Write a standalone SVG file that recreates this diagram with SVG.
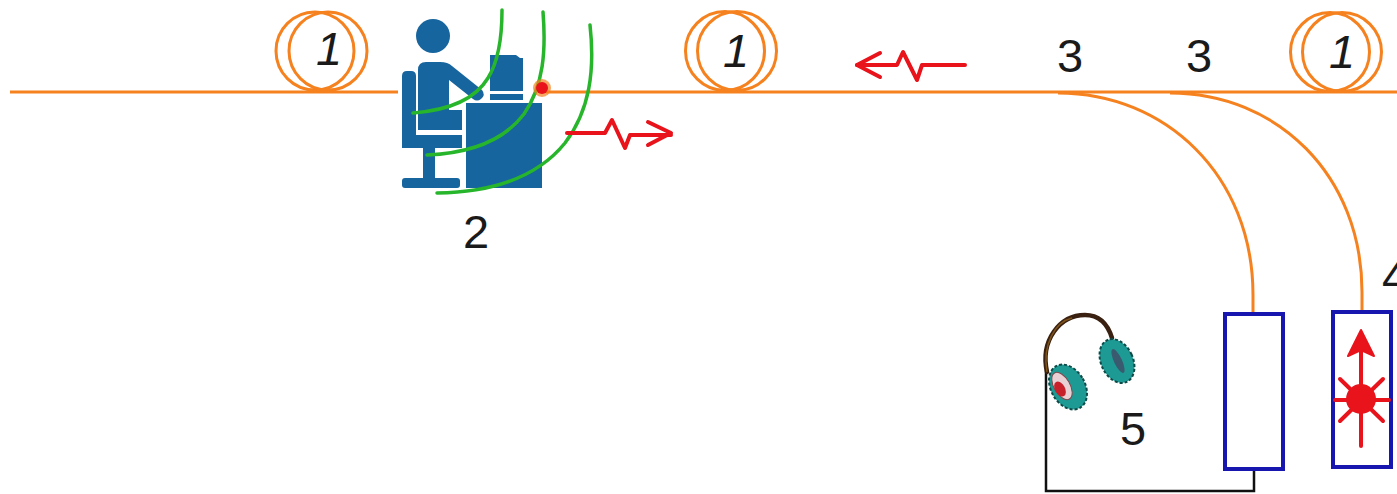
<svg xmlns="http://www.w3.org/2000/svg" width="1397" height="494" viewBox="0 0 1397 494">
  <style>
    .fiber { fill: none; stroke: #F5821F; stroke-width: 3; }
    .coil { fill: none; stroke: #F5821F; stroke-width: 3; }
    .box { fill: #ffffff; stroke: #1717B0; stroke-width: 4; }
    .wave { fill: none; stroke: #E8131B; stroke-width: 4; stroke-linejoin: round; stroke-linecap: round; }
    .field { fill: none; stroke: #27B52B; stroke-width: 3.5; stroke-linecap: round; }
    .icon { fill: #17659E; }
    .lbl { font-family: "Liberation Sans", Arial, sans-serif; font-size: 47px; fill: #1a1a1a; }
    .lbl-i { font-style: italic; text-anchor: middle; }
    .mid { text-anchor: middle; }
  </style>

  <rect width="1397" height="494" fill="#ffffff"/>

  <!-- optical fibre line and branches -->
  <g id="connectors">
    <path class="fiber" d="M10,92 H398"/>
    <path class="fiber" d="M546,92 H1397"/>
    <path class="fiber" d="M1058,93 C1165,93 1253,175 1253,295 V314"/>
    <path class="fiber" d="M1170,93 C1277,93 1362,175 1362,292 V312"/>
    <!-- audio cable from receiver to headphones -->
    <path d="M1254,469 V491 H1046 V366" fill="none" stroke="#111111" stroke-width="2.5"/>
  </g>

  <!-- fibre coils -->
  <g id="coil-1">
    <circle class="coil" cx="315" cy="51" r="39"/>
    <circle class="coil" cx="328" cy="51" r="39" fill="#ffffff"/>
    <text class="lbl lbl-i" x="329" y="65">1</text>
  </g>
  <g id="coil-2">
    <circle class="coil" cx="725" cy="51" r="39.5"/>
    <circle class="coil" cx="737" cy="51" r="39.5" fill="#ffffff"/>
    <text class="lbl lbl-i" x="736" y="67">1</text>
  </g>
  <g id="coil-3">
    <circle class="coil" cx="1330" cy="52" r="39.5"/>
    <circle class="coil" cx="1342" cy="52" r="39.5" fill="#ffffff"/>
    <text class="lbl lbl-i" x="1342" y="68">1</text>
  </g>

  <!-- eavesdropping workstation -->
  <g id="eavesdropper">
    <circle class="icon" cx="433" cy="36" r="17"/>
    <!-- chair -->
    <path class="icon" d="M402,76 Q402,71 407,71 H411 Q416,71 416,76 V135 H462 V148 H402 Z"/>
    <rect class="icon" x="423" y="148" width="12" height="31"/>
    <rect class="icon" x="402" y="178" width="58" height="10" rx="3"/>
    <!-- seated figure -->
    <path class="icon" d="M418,70 Q418,62 426,62 H440 Q448,62 452,66 L482,90 Q486,95 481,99 Q477,102 473,99 L449,80 V110 H462 V130 H418 Z"/>
    <!-- monitor and desk -->
    <path class="icon" d="M490,55 H516 L520,58 H523 V91 H490 Z"/>
    <rect class="icon" x="490" y="94" width="33" height="6"/>
    <rect class="icon" x="466" y="103" width="76" height="85"/>
    <!-- radiated field -->
    <path class="field" d="M502,10 C502,40 498,62 488,78 C476,98 452,110 413,113"/>
    <path class="field" d="M543,12 C546,50 544,85 524,114 C506,138 476,153 427,155"/>
    <path class="field" d="M590,25 C595,70 590,110 565,143 C540,174 500,192 437,193"/>
    <!-- tap point -->
    <circle cx="542" cy="88" r="9" fill="#F5821F" opacity="0.7"/>
    <circle cx="542" cy="88" r="6" fill="#E8131B"/>
    <text class="lbl mid" x="476" y="248">2</text>
  </g>

  <!-- signal propagation arrows -->
  <g id="signal-out">
    <path class="wave" d="M567,133 H605 L612,120 L625,148 L630,135 H671"/>
    <path class="wave" d="M648,122 L671,133 L648,145"/>
  </g>
  <g id="signal-in">
    <path class="wave" d="M965,65 H922 L917,80 L903,52 L897,65 H857"/>
    <path class="wave" d="M880,53 L857,65 L880,77"/>
  </g>

  <!-- couplers -->
  <g id="coupler-a">
    <text class="lbl mid" x="1070" y="72">3</text>
  </g>
  <g id="coupler-b">
    <text class="lbl mid" x="1199" y="72">3</text>
  </g>

  <!-- photoreceiver -->
  <g id="receiver">
    <rect class="box" x="1225" y="314" width="58" height="155"/>
  </g>

  <!-- laser source -->
  <g id="laser">
    <rect class="box" x="1333" y="312" width="58" height="155"/>
    <g stroke="#E8131B" stroke-width="4" stroke-linecap="round">
      <line x1="1361" y1="345" x2="1361" y2="446"/>
      <line x1="1335" y1="400" x2="1389" y2="400"/>
      <line x1="1340" y1="379" x2="1383" y2="421"/>
      <line x1="1383" y1="379" x2="1340" y2="421"/>
    </g>
    <circle cx="1361" cy="399" r="15" fill="#E8131B"/>
    <path d="M1361,330 L1374,356 L1361,350 L1348,356 Z" fill="#E8131B" stroke="#E8131B" stroke-width="2" stroke-linejoin="round"/>
    <text class="lbl" x="1382" y="293">4</text>
  </g>

  <!-- headphones -->
  <g id="headphones">
    <path d="M1047,372 C1040,340 1060,315 1085,315 C1100,315 1108,325 1112,338" fill="none" stroke="#3a2010" stroke-width="4.5" stroke-linecap="round"/>
    <path d="M1047,372 C1042,345 1055,322 1072,318" fill="none" stroke="#9a6a20" stroke-width="1.5" opacity="0.7"/>
    <ellipse cx="1068" cy="387" rx="17" ry="24" transform="rotate(-30 1068 387)" fill="#1E9A94" stroke="#0E4A48" stroke-width="2" stroke-dasharray="3 2"/>
    <ellipse cx="1062" cy="386" rx="8" ry="15" transform="rotate(-30 1062 386)" fill="#E8D0D4" stroke="#7a4a50" stroke-width="1"/>
    <ellipse cx="1060" cy="389" rx="5" ry="8" transform="rotate(-30 1060 389)" fill="#C8202A"/>
    <ellipse cx="1117" cy="361" rx="16" ry="23" transform="rotate(-25 1117 361)" fill="#1E9A94" stroke="#0E4A48" stroke-width="2" stroke-dasharray="3 2"/>
    <ellipse cx="1118" cy="361" rx="4" ry="13" transform="rotate(-25 1118 361)" fill="#3A5A70"/>
    <text class="lbl mid" x="1133" y="445">5</text>
  </g>
</svg>
